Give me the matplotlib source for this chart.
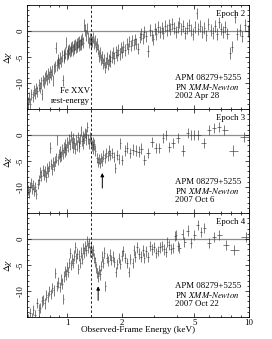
import numpy as np
import matplotlib
matplotlib.use("Agg")
import matplotlib.pyplot as plt
from matplotlib.ticker import FixedLocator, NullFormatter, MultipleLocator, FixedFormatter

plt.rcParams['font.family'] = ['Liberation Serif', 'DejaVu Serif']
plt.rcParams['mathtext.fontset'] = 'stix'
plt.rcParams['axes.unicode_minus'] = False

# ---------------- data ----------------
e1 = [0.605, 0.615, 0.625, 0.635, 0.645, 0.655, 0.665, 0.675, 0.685, 0.695,
      0.705, 0.715, 0.725, 0.735, 0.745, 0.755, 0.765, 0.775, 0.785, 0.795,
      0.805, 0.815, 0.825, 0.835, 0.845, 0.855, 0.865, 0.875, 0.885, 0.895,
      0.905, 0.915, 0.925, 0.935, 0.945, 0.955, 0.965, 0.975, 0.985, 0.995,
      1.005, 1.015, 1.025, 1.035, 1.045, 1.055, 1.065, 1.075, 1.085, 1.095,
      1.105, 1.115, 1.125, 1.135, 1.145, 1.155, 1.165, 1.175, 1.185, 1.195,
      1.21, 1.225, 1.24, 1.255, 1.27, 1.285, 1.30, 1.315, 1.33, 1.345,
      1.36, 1.375, 1.39, 1.405, 1.42, 1.435, 1.45, 1.47, 1.49, 1.51,
      1.53, 1.55, 1.57, 1.59, 1.61, 1.63, 1.65, 1.67, 1.69, 1.71,
      1.73, 1.76, 1.79, 1.82, 1.85, 1.88, 1.91, 1.94, 1.97, 2.00,
      2.04, 2.08, 2.12, 2.16, 2.20, 2.24, 2.28, 2.32, 2.36, 2.40,
      2.45, 2.50, 2.55, 2.60, 2.65, 2.70, 2.78, 2.86, 2.92, 2.98,
      3.04, 3.10, 3.17, 3.24, 3.31, 3.38, 3.46, 3.54, 3.62, 3.70,
      3.78, 3.87, 3.96, 4.05, 4.15, 4.25, 4.35, 4.45, 4.56, 4.67,
      4.78, 4.90, 5.02, 5.15, 5.28, 5.41, 5.55, 5.69, 5.84, 5.99,
      6.15, 6.31, 6.48, 6.65, 6.83, 7.01, 7.20, 7.40, 7.62, 7.88,
      8.10, 8.35, 8.62, 8.90, 9.20, 9.50, 9.85]
d1 = [-13.8, -12.8, -14.0, -12.2, -12.6, -11.4, -12.0, -11.0, -11.6, -10.4,
      -10.9, -10.0, -12.2, -9.5, -9.9, -9.0, -8.6, -9.3, -8.2, -8.8,
      -7.9, -8.4, -7.6, -9.5, -7.2, -6.8, -3.2, -6.5, -6.0, -5.5,
      -6.2, -5.2, -5.8, -4.8, -9.5, -4.6, -5.0, -4.2, -2.2, -4.5,
      -3.8, -4.2, -3.5, -3.9, -3.2, -3.7, -3.0, -3.6, -2.8, -3.4,
      -2.6, -3.1, -2.4, -3.0, -2.2, -2.8, -2.0, -2.6, -1.8, -2.5,
      -1.5, -2.2, 1.2, 0.2, -0.8, 0.5, -1.2, -2.2, -1.5, -2.5,
      -1.6, -2.0, -1.2, -2.4, -1.8, -3.0, -2.5, -3.5, -4.8, -4.2,
      -5.5, -5.0, -6.2, -5.6, -7.0, -6.0, -5.2, -6.4, -5.6, -4.8,
      -5.8, -5.0, -4.2, -5.2, -4.0, -4.6, -3.6, -4.4, -3.2, -4.0,
      -3.0, -3.6, -2.4, -3.4, -2.0, -2.8, -1.8, -2.6, -1.6, -2.4,
      -3.4, -1.2, -0.6, -1.4, -0.2, -1.0, -3.8, 0.2, -0.8, -1.6,
      0.4, -0.6, 0.8, -0.2, 0.6, -0.4, 1.0, 0.2, 1.2, 0.4,
      1.4, 0.6, -0.2, 0.8, 1.6, 0.4, 1.0, -0.4, 0.6, 1.2,
      0.2, -0.6, 0.8, 3.4, 0.4, 1.0, -0.2, 0.6, -0.8, 1.4,
      0.2, -0.4, 1.0, -0.6, 1.7, 0.4, -0.2, 0.8, -0.5, -4.2,
      -3.0, 2.7, -0.6, 0.2, -1.0, 1.2, 0.0]

e2 = [0.605, 0.614, 0.623, 0.632, 0.641, 0.650, 0.659, 0.668, 0.677, 0.688,
      0.699, 0.710, 0.721, 0.732, 0.743, 0.754, 0.765, 0.776, 0.787, 0.798,
      0.808, 0.818, 0.828, 0.838, 0.848, 0.858, 0.868, 0.878, 0.888, 0.898,
      0.908, 0.918, 0.928, 0.938, 0.948, 0.958, 0.968, 0.978, 0.988, 0.998,
      1.010, 1.022, 1.034, 1.046, 1.058, 1.070, 1.082, 1.094, 1.106, 1.118,
      1.130, 1.142, 1.154, 1.166, 1.178, 1.190, 1.202, 1.214, 1.226, 1.238,
      1.250, 1.262, 1.275, 1.290, 1.305, 1.320, 1.335, 1.350, 1.365, 1.380,
      1.395, 1.410, 1.430, 1.45, 1.47, 1.49, 1.51, 1.53, 1.555, 1.58,
      1.61, 1.64, 1.67, 1.70, 1.73, 1.76, 1.80, 1.84, 1.88, 1.92,
      1.96, 2.01, 2.07, 2.14, 2.21, 2.29, 2.38, 2.47, 2.56, 2.65,
      2.78, 2.93, 3.08, 3.22, 3.37, 3.50, 3.64, 3.82, 4.07, 4.33,
      4.62, 4.80, 5.00, 5.25, 5.66, 6.02, 6.42, 6.84, 7.29, 8.17, 9.45]
d2 = [-10.6, -11.2, -10.0, -9.2, -10.4, -9.6, -10.8, -10.0, -11.4, -9.4,
      -8.6, -7.2, -7.8, -6.8, -7.6, -7.0, -8.0, -6.4, -7.0, -6.0,
      -2.4, -5.6, -6.6, -5.2, -6.0, -5.0, -4.4, -1.0, -4.8, -3.6,
      -4.2, -3.2, -4.0, -2.8, -3.6, -2.4, -3.2, -1.8, -2.8, -1.4,
      -2.2, -0.8, -1.8, -0.2, -1.4, -2.4, -0.6, -1.6, -2.6, -1.0,
      -2.0, -0.4, -1.4, -2.2, -0.8, 0.8, -1.2, -0.2, -1.6, -0.6,
      0.4, -1.0, 0.2, 1.6, -0.8, -1.6, -0.4, -1.2, -2.0, -1.4,
      -2.6, -1.8, -3.0, -4.4, -5.2, -4.6, -5.4, -4.4, -5.0, -3.8,
      -4.4, -3.4, -4.0, -3.0, -3.8, -3.4, -4.2, -6.3, -3.8, -4.6,
      -1.6, -4.8, -3.0, -2.4, -3.4, -2.8, -3.0, -3.2, -2.6, -4.8,
      -3.5, -1.3, -2.5, -2.5, -0.6, 0.0, -2.3, -1.5, -0.6, -3.0,
      0.4, 0.0, 0.0, 0.0, -1.5, 1.0, 1.3, 1.6, 1.0, -3.0, -0.4]

e3 = [0.611, 0.626, 0.638, 0.650, 0.667, 0.684, 0.697, 0.711, 0.724, 0.738,
      0.752, 0.767, 0.781, 0.796, 0.812, 0.827, 0.843, 0.859, 0.876, 0.892,
      0.909, 0.927, 0.939, 0.951, 0.963, 0.975, 0.988, 1.000, 1.013, 1.026,
      1.039, 1.052, 1.065, 1.079, 1.093, 1.106, 1.120, 1.135, 1.149, 1.164,
      1.179, 1.194, 1.209, 1.224, 1.240, 1.256, 1.272, 1.288, 1.305, 1.321,
      1.338, 1.356, 1.373, 1.390, 1.408, 1.426, 1.443, 1.462, 1.480, 1.499,
      1.518, 1.537, 1.557, 1.577, 1.597, 1.618, 1.650, 1.680, 1.710, 1.745,
      1.780, 1.813, 1.850, 1.883, 1.920, 1.956, 1.990, 2.03, 2.08, 2.14,
      2.18, 2.22, 2.29, 2.32, 2.36, 2.42, 2.49, 2.55, 2.62, 2.66,
      2.72, 2.78, 2.86, 2.93, 3.02, 3.09, 3.16, 3.24, 3.32, 3.41,
      3.50, 3.55, 3.63, 3.73, 3.82, 3.92, 3.99, 4.07, 4.15, 4.33,
      4.41, 4.62, 4.80, 4.98, 5.24, 5.45, 5.66, 6.02, 6.42, 6.84,
      7.45, 8.25, 9.66]
d3 = [-15.5, -14.2, -15.2, -13.7, -14.6, -12.3, -13.6, -13.3, -12.0, -11.7,
      -12.4, -10.8, -11.2, -10.0, -10.6, -9.4, -9.9, -6.6, -9.0, -8.4,
      -9.2, -7.8, -8.6, -11.6, -7.2, -6.2, -6.8, -5.4, -6.4, -4.6,
      -2.7, -5.0, -3.8, -4.6, -3.2, -1.6, -3.6, -2.8, -5.8, -3.2,
      -4.6, -2.6, -3.8, -1.8, -2.6, -1.4, -2.2, -0.4, -1.6, -0.8,
      -2.4, -1.6, -2.8, -2.2, -3.6, -4.4, -5.6, -6.6, -7.2, -6.0,
      -6.8, -5.2, -3.4, -4.6, -2.6, -9.0, -3.6, -4.2, -3.0, -4.0,
      -3.4, -4.4, -6.4, -4.8, -3.6, -4.8, -3.2, -2.3, -3.6, -4.6,
      -6.3, -3.8, -4.6, -2.2, -3.4, -1.6, -2.8, -3.4, -2.2, -3.7,
      -2.4, -3.5, -1.3, -2.0, -1.5, -2.7, -2.3, -1.6, -1.3, -2.0,
      -2.5, -0.6, -1.2, -1.9, -1.7, 0.6, 0.8, -1.3, -1.7, 1.0,
      -0.6, 1.6, -0.8, 0.8, 2.7, 1.4, 2.1, -0.8, 0.4, 0.8,
      -1.2, -2.1, 0.4]

energies = [e1, e2, e3]
residuals = [d1, d2, d3]
yerrs = [1.1, 1.0, 1.0]
epochs = ["Epoch 2", "Epoch 3", "Epoch 4"]
dates = ["2002 Apr 28", "2007 Oct 6", "2007 Oct 22"]
fe_xxv_energy = 1.36
arrow_E = [None, 1.56, 1.48]
arrow_tail = [None, -10.2, -11.8]
arrow_head = [None, -7.3, -9.1]
xticks_major = [1, 2, 5, 10]
xticks_minor = [0.6, 0.7, 0.8, 0.9, 3, 4, 6, 7, 8, 9]
yticks = [-10, -5, 0]

# ---------------- figure ----------------
fig = plt.figure(figsize=(2.72, 3.39), dpi=100)
gs = fig.add_gridspec(3, 1, left=0.099, right=0.915, top=0.985, bottom=0.065, hspace=0)
fs = 6.3

for i in range(3):
    ax = fig.add_subplot(gs[i])
    E = np.array(energies[i])
    d = np.array(residuals[i])
    lE = np.log10(E)
    mids = (lE[1:] + lE[:-1]) / 2
    lo = np.concatenate([[lE[0] - (mids[0] - lE[0])], mids])
    hi = np.concatenate([mids, [lE[-1] + (lE[-1] - mids[-1])]])
    xerr = np.vstack([E - 10 ** lo, 10 ** hi - E]) * 0.85
    ax.errorbar(E, d, yerr=yerrs[i], xerr=xerr, fmt='none', ecolor='0.2',
                elinewidth=0.45, capsize=0)
    ax.axhline(0, color='0.55', lw=0.9, zorder=0)
    ax.axvline(fe_xxv_energy, color='black', lw=0.6, ls=(0, (3, 2.5)))
    ax.set_xscale('log')
    ax.set_xlim(0.6, 10)
    ax.set_ylim(-15, 5)
    ax.xaxis.set_major_locator(FixedLocator(xticks_major))
    ax.xaxis.set_minor_locator(FixedLocator(xticks_minor))
    ax.xaxis.set_minor_formatter(NullFormatter())
    if i == 2:
        ax.xaxis.set_major_formatter(FixedFormatter([str(t) for t in xticks_major]))
        ax.set_xlabel('Observed-Frame Energy (keV)', fontsize=fs + 0.3, labelpad=-1)
    else:
        ax.xaxis.set_major_formatter(NullFormatter())
    ax.yaxis.set_major_locator(FixedLocator(yticks))
    ax.yaxis.set_minor_locator(MultipleLocator(1))
    ax.tick_params(which='both', direction='in', top=True, right=True,
                   labelsize=fs, width=0.5, pad=1.5)
    ax.tick_params(which='major', length=3)
    ax.tick_params(which='minor', length=1.5)
    ax.tick_params(axis='y', labelrotation=90)
    for lbl in ax.get_yticklabels():
        lbl.set_va('center')
    for s in ax.spines.values():
        s.set_linewidth(0.6)
    ax.set_ylabel(r'$\Delta\chi$', fontsize=fs + 0.5, labelpad=2)
    ax.text(0.985, 0.915, epochs[i], transform=ax.transAxes, ha='right',
            va='center', fontsize=fs)
    ax.text(0.667, 0.30, 'APM 08279+5255', transform=ax.transAxes, ha='left',
            va='center', fontsize=fs)
    ax.text(0.667, 0.215, r'PN $\mathit{XMM}$-$\mathit{Newton}$', transform=ax.transAxes,
            ha='left', va='center', fontsize=fs)
    ax.text(0.667, 0.125, dates[i], transform=ax.transAxes, ha='left',
            va='center', fontsize=fs)
    if i == 0:
        ax.text(fe_xxv_energy * 0.985, -11.5, 'Fe XXV', ha='right', va='center',
                fontsize=fs)
        ax.text(fe_xxv_energy * 0.985, -13.4, 'rest-energy', ha='right',
                va='center', fontsize=fs)
    if arrow_E[i] is not None:
        ax.annotate('', xy=(arrow_E[i], arrow_head[i]), xytext=(arrow_E[i], arrow_tail[i]),
                    arrowprops=dict(arrowstyle='-|>', color='black', lw=0.7,
                                    mutation_scale=5, shrinkA=0, shrinkB=0))

fig.savefig('out.png', dpi=100)
